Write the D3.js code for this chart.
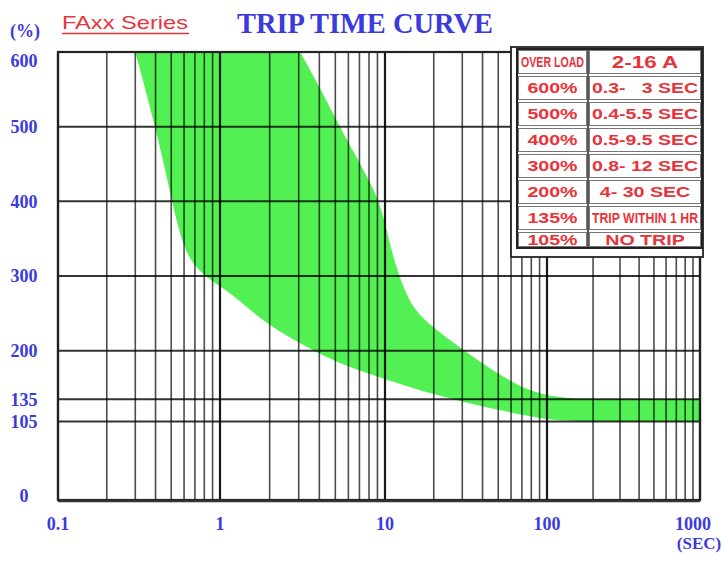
<!DOCTYPE html>
<html lang="en">
<head>
<meta charset="UTF-8">
<title>Trip Time Curve</title>
<style>
body { margin: 0; background: #fff; }
svg { display: block; }
</style>
</head>
<body>
<div id="chart"></div>
<script src="https://cdn.jsdelivr.net/npm/d3@7/dist/d3.min.js"></script>
<script>

// axis values
const yTicks = [0, 105, 135, 200, 300, 400, 500, 600];
const xDecades = [0.1, 1, 10, 100, 1000];
const xLabels = ["0.1", "1", "10", "100", "1000"];

// lower edge of the green band (fastest trip), sec / %
const minTime = [0.3, 0.4, 0.5, 0.58, 0.68, 0.85, 1.2, 1.7, 2.5, 4, 6, 10, 20, 40, 70, 110, 160, 1000];
const minPct  = [600, 500, 405, 345, 315, 296, 275, 245, 220, 196, 178, 162, 141, 125, 114, 107, 105, 105];

// upper edge (slowest trip)
const maxTime = [3.06, 4.2, 5.4, 7.0, 9.3, 10.5, 11.8, 13, 15, 20, 30.3, 45, 70, 100, 140, 200, 1000];
const maxPct  = [600, 545, 497, 452, 402, 350, 310, 285, 255, 230, 201, 175, 150, 140, 136, 135, 135];

// table
const tableHead = ["OVER LOAD", "2-16 A"];
const overload = ["600%", "500%", "400%", "300%", "200%", "135%", "105%"];
const tripTime = ["0.3-   3 SEC", "0.4-5.5 SEC", "0.5-9.5 SEC", "0.8- 12 SEC", "4- 30 SEC", "TRIP WITHIN 1 HR", "NO TRIP"];

const W = 725, H = 563;
const plotL = 58, plotR = 700, plotT = 52, plotB = 500;
const blue = "#3b3bdc", red = "#e8333a", green = "#52f052";

const svg = d3.select("#chart").append("svg")
	.attr("width", W)
	.attr("height", H);

const x = d3.scaleLog().domain(xDecades).range([plotL, 220, 385, 547, plotR]);
const y = d3.scaleLinear().domain([0, 600]).range([plotB, plotT]);

svg.append("clipPath").attr("id", "plotclip")
	.append("rect")
	.attr("x", plotL).attr("y", plotT)
	.attr("width", plotR - plotL).attr("height", plotB - plotT);

// green band
const lower = minTime.map((t, i) => [x(t), y(minPct[i])]);
const upper = maxTime.map((t, i) => [x(t), y(maxPct[i])]);
const line = d3.line().curve(d3.curveBasis);
const bandPath = line(lower) + line(upper.slice().reverse()).replace("M", "L") + "Z";

svg.append("path")
	.attr("d", bandPath)
	.attr("fill", green)
	.attr("clip-path", "url(#plotclip)");

// vertical grid
const gridTimes = xDecades.slice(0, -1)
	.flatMap(d => d3.range(1, 10).map(k => d * k))
	.concat([1000]);
const isDecade = d => xDecades.includes(+d.toPrecision(3));

svg.append("g")
	.selectAll("line")
	.data(gridTimes)
	.join("line")
	.attr("x1", d => x(d)).attr("x2", d => x(d))
	.attr("y1", plotT).attr("y2", plotB)
	.attr("stroke", "#000")
	.attr("stroke-opacity", d => isDecade(d) ? 0.9 : 0.7)
	.attr("stroke-width", d => isDecade(d) ? 2.2 : 1.6);

// horizontal grid
svg.append("g")
	.selectAll("line")
	.data(yTicks)
	.join("line")
	.attr("x1", plotL).attr("x2", plotR)
	.attr("y1", d => y(d)).attr("y2", d => y(d))
	.attr("stroke", "#000")
	.attr("stroke-opacity", 0.8)
	.attr("stroke-width", 2);

// frame
svg.append("rect")
	.attr("x", plotL).attr("y", plotT)
	.attr("width", plotR - plotL).attr("height", plotB - plotT)
	.attr("fill", "none")
	.attr("stroke", "#222")
	.attr("stroke-width", 2.2);
svg.append("line")
	.attr("x1", plotL).attr("x2", plotR)
	.attr("y1", plotB + 1).attr("y2", plotB + 1)
	.attr("stroke", "#333").attr("stroke-width", 2.5);

// y labels
svg.append("g")
	.selectAll("text")
	.data(yTicks)
	.join("text")
	.attr("x", 24)
	.attr("y", d => Math.max(y(d), plotT + 9) - (d === 0 ? 4 : 0))
	.attr("dy", "0.35em")
	.attr("text-anchor", "middle")
	.attr("font-family", "'Liberation Serif', 'DejaVu Serif', serif")
	.attr("font-weight", "bold")
	.attr("font-size", 18)
	.attr("fill", blue)
	.text(d => d);

svg.append("text")
	.attr("x", 25).attr("y", 37)
	.attr("text-anchor", "middle")
	.attr("font-family", "'Liberation Serif', serif")
	.attr("font-weight", "bold")
	.attr("font-size", 18)
	.attr("fill", blue)
	.text("(%)");

// x labels
svg.append("g")
	.selectAll("text")
	.data(xDecades)
	.join("text")
	.attr("x", d => Math.min(x(d), 693))
	.attr("y", 530)
	.attr("text-anchor", "middle")
	.attr("font-family", "'Liberation Serif', serif")
	.attr("font-weight", "bold")
	.attr("font-size", 18)
	.attr("fill", blue)
	.text((d, i) => xLabels[i]);

svg.append("text")
	.attr("x", 699).attr("y", 549)
	.attr("text-anchor", "middle")
	.attr("font-family", "'Liberation Serif', serif")
	.attr("font-weight", "bold")
	.attr("font-size", 17)
	.attr("fill", blue)
	.text("(SEC)");

// titles
svg.append("text")
	.attr("x", 62).attr("y", 29)
	.attr("font-family", "'Liberation Sans', Arial, sans-serif")
	.attr("font-size", 19)
	.attr("fill", red)
	.attr("textLength", 126)
	.attr("lengthAdjust", "spacingAndGlyphs")
	.text("FAxx Series");
svg.append("line")
	.attr("x1", 62).attr("x2", 189)
	.attr("y1", 33.5).attr("y2", 33.5)
	.attr("stroke", red).attr("stroke-width", 1.5);

svg.append("text")
	.attr("x", 237).attr("y", 33)
	.attr("font-family", "'Liberation Serif', 'Times New Roman', serif")
	.attr("font-weight", "bold")
	.attr("font-size", 30)
	.attr("fill", blue)
	.attr("textLength", 256)
	.attr("lengthAdjust", "spacingAndGlyphs")
	.text("TRIP TIME CURVE");

// table with offset frame
const tx = 517, ty = 49, tw = 185, c1 = 71, rowH = 26, tBottom = 248;
svg.append("rect")
	.attr("x", 511).attr("y", 47)
	.attr("width", plotR + 3 - 511).attr("height", 257 - 47)
	.attr("fill", "#fff")
	.attr("stroke", "#222").attr("stroke-width", 1.8);

const rows = [tableHead].concat(overload.map((o, i) => [o, tripTime[i]]));
const rowTop = i => ty + i * rowH;
const rowBot = i => i === rows.length - 1 ? tBottom : ty + (i + 1) * rowH;

const tg = svg.append("g");
rows.forEach((r, i) => {
	const y0 = rowTop(i), y1 = rowBot(i);
	[[tx, c1], [tx + c1, tw - c1]].forEach(([cx, cw], j) => {
		tg.append("rect")
			.attr("x", cx + 1.5).attr("y", y0 + 1.5)
			.attr("width", cw - 3).attr("height", y1 - y0 - 3)
			.attr("fill", "#fff")
			.attr("stroke", "#777").attr("stroke-width", 1);
		const size = i === 0 && j === 1 ? 16 : 14;
		const t = tg.append("text")
			.attr("x", cx + cw / 2)
			.attr("y", (y0 + y1) / 2)
			.attr("dy", "0.36em")
			.attr("text-anchor", "middle")
			.attr("font-family", "'Liberation Sans', Arial, sans-serif")
			.attr("font-weight", "bold")
			.attr("font-size", size)
			.attr("fill", red)
			.style("white-space", "pre")
			.text(r[j]);
		const natural = t.node().getComputedTextLength();
		const target = Math.min(natural * 1.4, cw - 8);
		t.attr("textLength", target).attr("lengthAdjust", "spacingAndGlyphs");
	});
});
tg.append("rect")
	.attr("x", tx).attr("y", ty)
	.attr("width", tw).attr("height", tBottom - ty)
	.attr("fill", "none")
	.attr("stroke", "#222").attr("stroke-width", 2);
tg.append("line")
	.attr("x1", tx + c1).attr("x2", tx + c1)
	.attr("y1", ty).attr("y2", tBottom)
	.attr("stroke", "#222").attr("stroke-width", 1.5);

</script>
</body>
</html>
